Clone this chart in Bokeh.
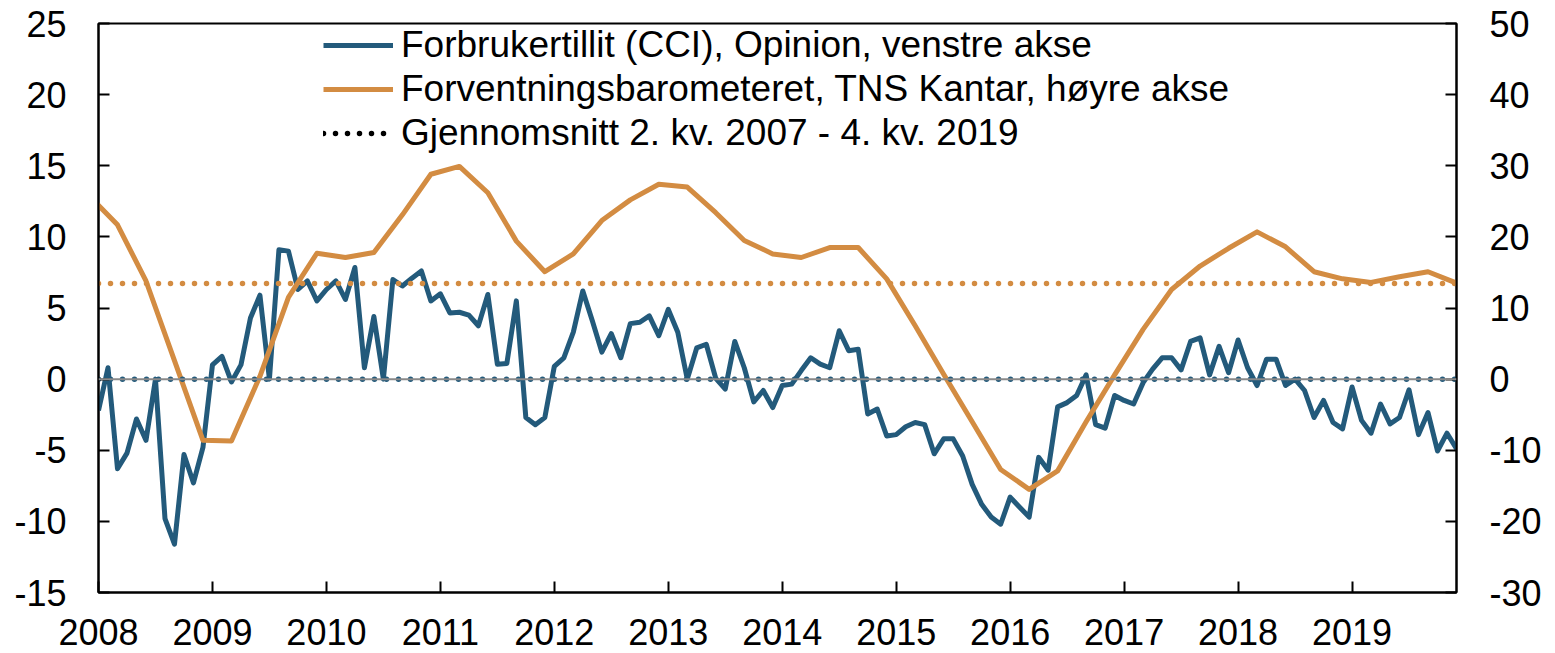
import numpy as np
from bokeh.plotting import figure
from bokeh.models import (Range1d, LinearAxis, FixedTicker, Legend, LegendItem,
                          Span)
from bokeh.embed import file_html
from bokeh.resources import INLINE

# ---------------- data ----------------
years = ["2008", "2009", "2010", "2011", "2012", "2013", "2014",
         "2015", "2016", "2017", "2018", "2019"]
left_ticks = [-15, -10, -5, 0, 5, 10, 15, 20, 25]
right_ticks = [-30, -20, -10, 0, 10, 20, 30, 40, 50]

# Forbrukertillit (CCI), Opinion - monthly, Jan 2008 .. Dec 2019 (left axis)
cci = [
    -2.2, 0.8, -6.3, -5.2, -2.8, -4.3, 0.0, -9.8, -11.6, -5.3, -7.3, -4.8,      # 2008
    1.0, 1.6, -0.2, 1.0, 4.3, 5.9, 0.0, 9.1, 9.0, 6.3, 6.9, 5.5,                # 2009
    6.3, 6.9, 5.6, 7.85, 0.8, 4.4, 0.0, 7.0, 6.55, 7.1, 7.6, 5.5,               # 2010
    6.0, 4.65, 4.7, 4.5, 3.75, 5.95, 1.05, 1.1, 5.5, -2.7, -3.2, -2.7,          # 2011
    0.9, 1.5, 3.3, 6.2, 4.1, 1.9, 3.2, 1.5, 3.9, 4.0, 4.45, 3.05,               # 2012
    4.9, 3.3, 0.0, 2.2, 2.45, 0.05, -0.7, 2.65, 0.8, -1.6, -0.8, -2.0,          # 2013
    -0.45, -0.35, 0.6, 1.5, 1.05, 0.8, 3.4, 2.0, 2.1, -2.45, -2.1, -4.0,        # 2014
    -3.9, -3.35, -3.05, -3.2, -5.25, -4.2, -4.2, -5.4, -7.4, -8.8, -9.7, -10.2, # 2015
    -8.3, -9.0, -9.7, -5.5, -6.4, -1.95, -1.65, -1.15, 0.3, -3.2, -3.45, -1.15, # 2016
    -1.5, -1.75, -0.25, 0.7, 1.5, 1.5, 0.65, 2.65, 2.9, 0.3, 2.3, 0.45,         # 2017
    2.75, 0.8, -0.45, 1.4, 1.4, -0.45, 0.0, -0.8, -2.7, -1.5, -3.05, -3.5,      # 2018
    -0.55, -2.9, -3.8, -1.75, -3.15, -2.7, -0.75, -3.9, -2.35, -5.05, -3.8, -4.9,  # 2019
]

# Forventningsbarometeret, TNS Kantar - quarterly (right axis),
# quarter-end months counted from Jan 2008 = 0 (first value is 4th quarter 2007)
fb_month = list(range(-1, 144, 3))
fb = [
    25.8,                       # Q4 2007
    21.7, 13.8, 2.6, -8.6,      # 2008
    -8.7, 0.4, 11.5, 17.7,      # 2009
    17.1, 17.8, 23.1, 28.8,     # 2010
    29.9, 26.2, 19.4, 15.1,     # 2011
    17.6, 22.3, 25.2, 27.4,     # 2012
    27.0, 23.4, 19.5, 17.6,     # 2013
    17.1, 18.5, 18.5, 14.1,     # 2014
    7.5, 0.7, -6.0, -12.7,      # 2015
    -15.5, -12.9, -6.0, 0.6,    # 2016
    7.0, 12.6, 15.9, 18.4,      # 2017
    20.7, 18.6, 15.1, 14.1,     # 2018
    13.6, 14.4, 15.1, 13.5,     # 2019
]

# Averages 2. kv. 2007 - 4. kv. 2019
cci_avg = 0.0
fb_avg = 13.45

BLUE = "#235a7b"
ORANGE = "#d38c42"
FONT = "Liberation Sans"

cci_month = np.arange(len(cci))
span_x = [int(cci_month[0]), int(cci_month[-1])]
year_ticks = [12 * i for i in range(len(years))]

# ---------------- figure ----------------
p = figure(width=1547, height=653,
           x_range=Range1d(span_x[0], span_x[1]),
           y_range=Range1d(left_ticks[0], left_ticks[-1]),
           output_backend="svg", toolbar_location=None,
           min_border_left=98, min_border_right=91,
           min_border_top=23, min_border_bottom=61)
p.extra_y_ranges = {"right": Range1d(right_ticks[0], right_ticks[-1])}
p.xgrid.visible = False
p.ygrid.visible = False
p.outline_line_color = "black"
p.outline_line_width = 2
p.background_fill_color = "white"
p.border_fill_color = "white"

right_axis = LinearAxis(y_range_name="right")
p.add_layout(right_axis, "right")


def style_axis(ax, standoff):
    ax.axis_line_width = 2
    ax.axis_line_color = "black"
    ax.major_tick_line_width = 2
    ax.major_tick_line_color = "black"
    ax.major_tick_in = 11
    ax.major_tick_out = 0
    ax.minor_tick_line_color = None
    ax.major_label_text_font = FONT
    ax.major_label_text_font_size = "36px"
    ax.major_label_text_color = "black"
    ax.major_label_standoff = standoff


style_axis(p.yaxis[0], 32)
style_axis(right_axis, 33)
style_axis(p.xaxis[0], 26)

p.yaxis[0].ticker = FixedTicker(ticks=left_ticks)
p.yaxis[0].major_label_overrides = {t: str(t) for t in left_ticks}
right_axis.ticker = FixedTicker(ticks=right_ticks)
right_axis.major_label_overrides = {t: str(t) for t in right_ticks}

p.xaxis[0].ticker = FixedTicker(ticks=year_ticks)
p.xaxis[0].major_label_overrides = {t: yr for t, yr in zip(year_ticks, years)}
p.xaxis[0].major_label_text_line_height = 0.8

# zero line
p.add_layout(Span(location=0, dimension="width", line_color="#8a8a8a",
                  line_width=2))

# series
r_cci = p.line(cci_month, cci, line_color=BLUE, line_width=5,
               line_join="round")
r_fb = p.line(fb_month, fb, line_color=ORANGE, line_width=5,
              line_join="round", y_range_name="right")

# average lines (dotted)
p.line(span_x, [cci_avg, cci_avg], line_color=BLUE, line_width=5.5,
       line_dash="0 12", line_cap="round")
p.line(span_x, [fb_avg, fb_avg], line_color=ORANGE, line_width=5.5,
       line_dash="0 12", line_cap="round", y_range_name="right")

# dummy renderer for legend entry (black dotted)
r_avg = p.line([np.nan], [np.nan], line_color="black", line_width=5.5,
               line_dash="0 12", line_cap="round")

legend = Legend(items=[
    LegendItem(label="Forbrukertillit (CCI), Opinion, venstre akse", renderers=[r_cci]),
    LegendItem(label="Forventningsbarometeret, TNS Kantar, høyre akse", renderers=[r_fb]),
    LegendItem(label="Gjennomsnitt 2. kv. 2007 - 4. kv. 2019", renderers=[r_avg]),
], location=(225, 437))
legend.glyph_width = 70
legend.glyph_height = 44
legend.spacing = 0
legend.padding = 0
legend.margin = 0
legend.label_standoff = 8
legend.label_text_font = FONT
legend.label_text_font_size = "37px"
legend.label_text_color = "black"
legend.border_line_color = None
legend.background_fill_alpha = 0
p.add_layout(legend)

open("out.html", "w").write(file_html(p, INLINE))
